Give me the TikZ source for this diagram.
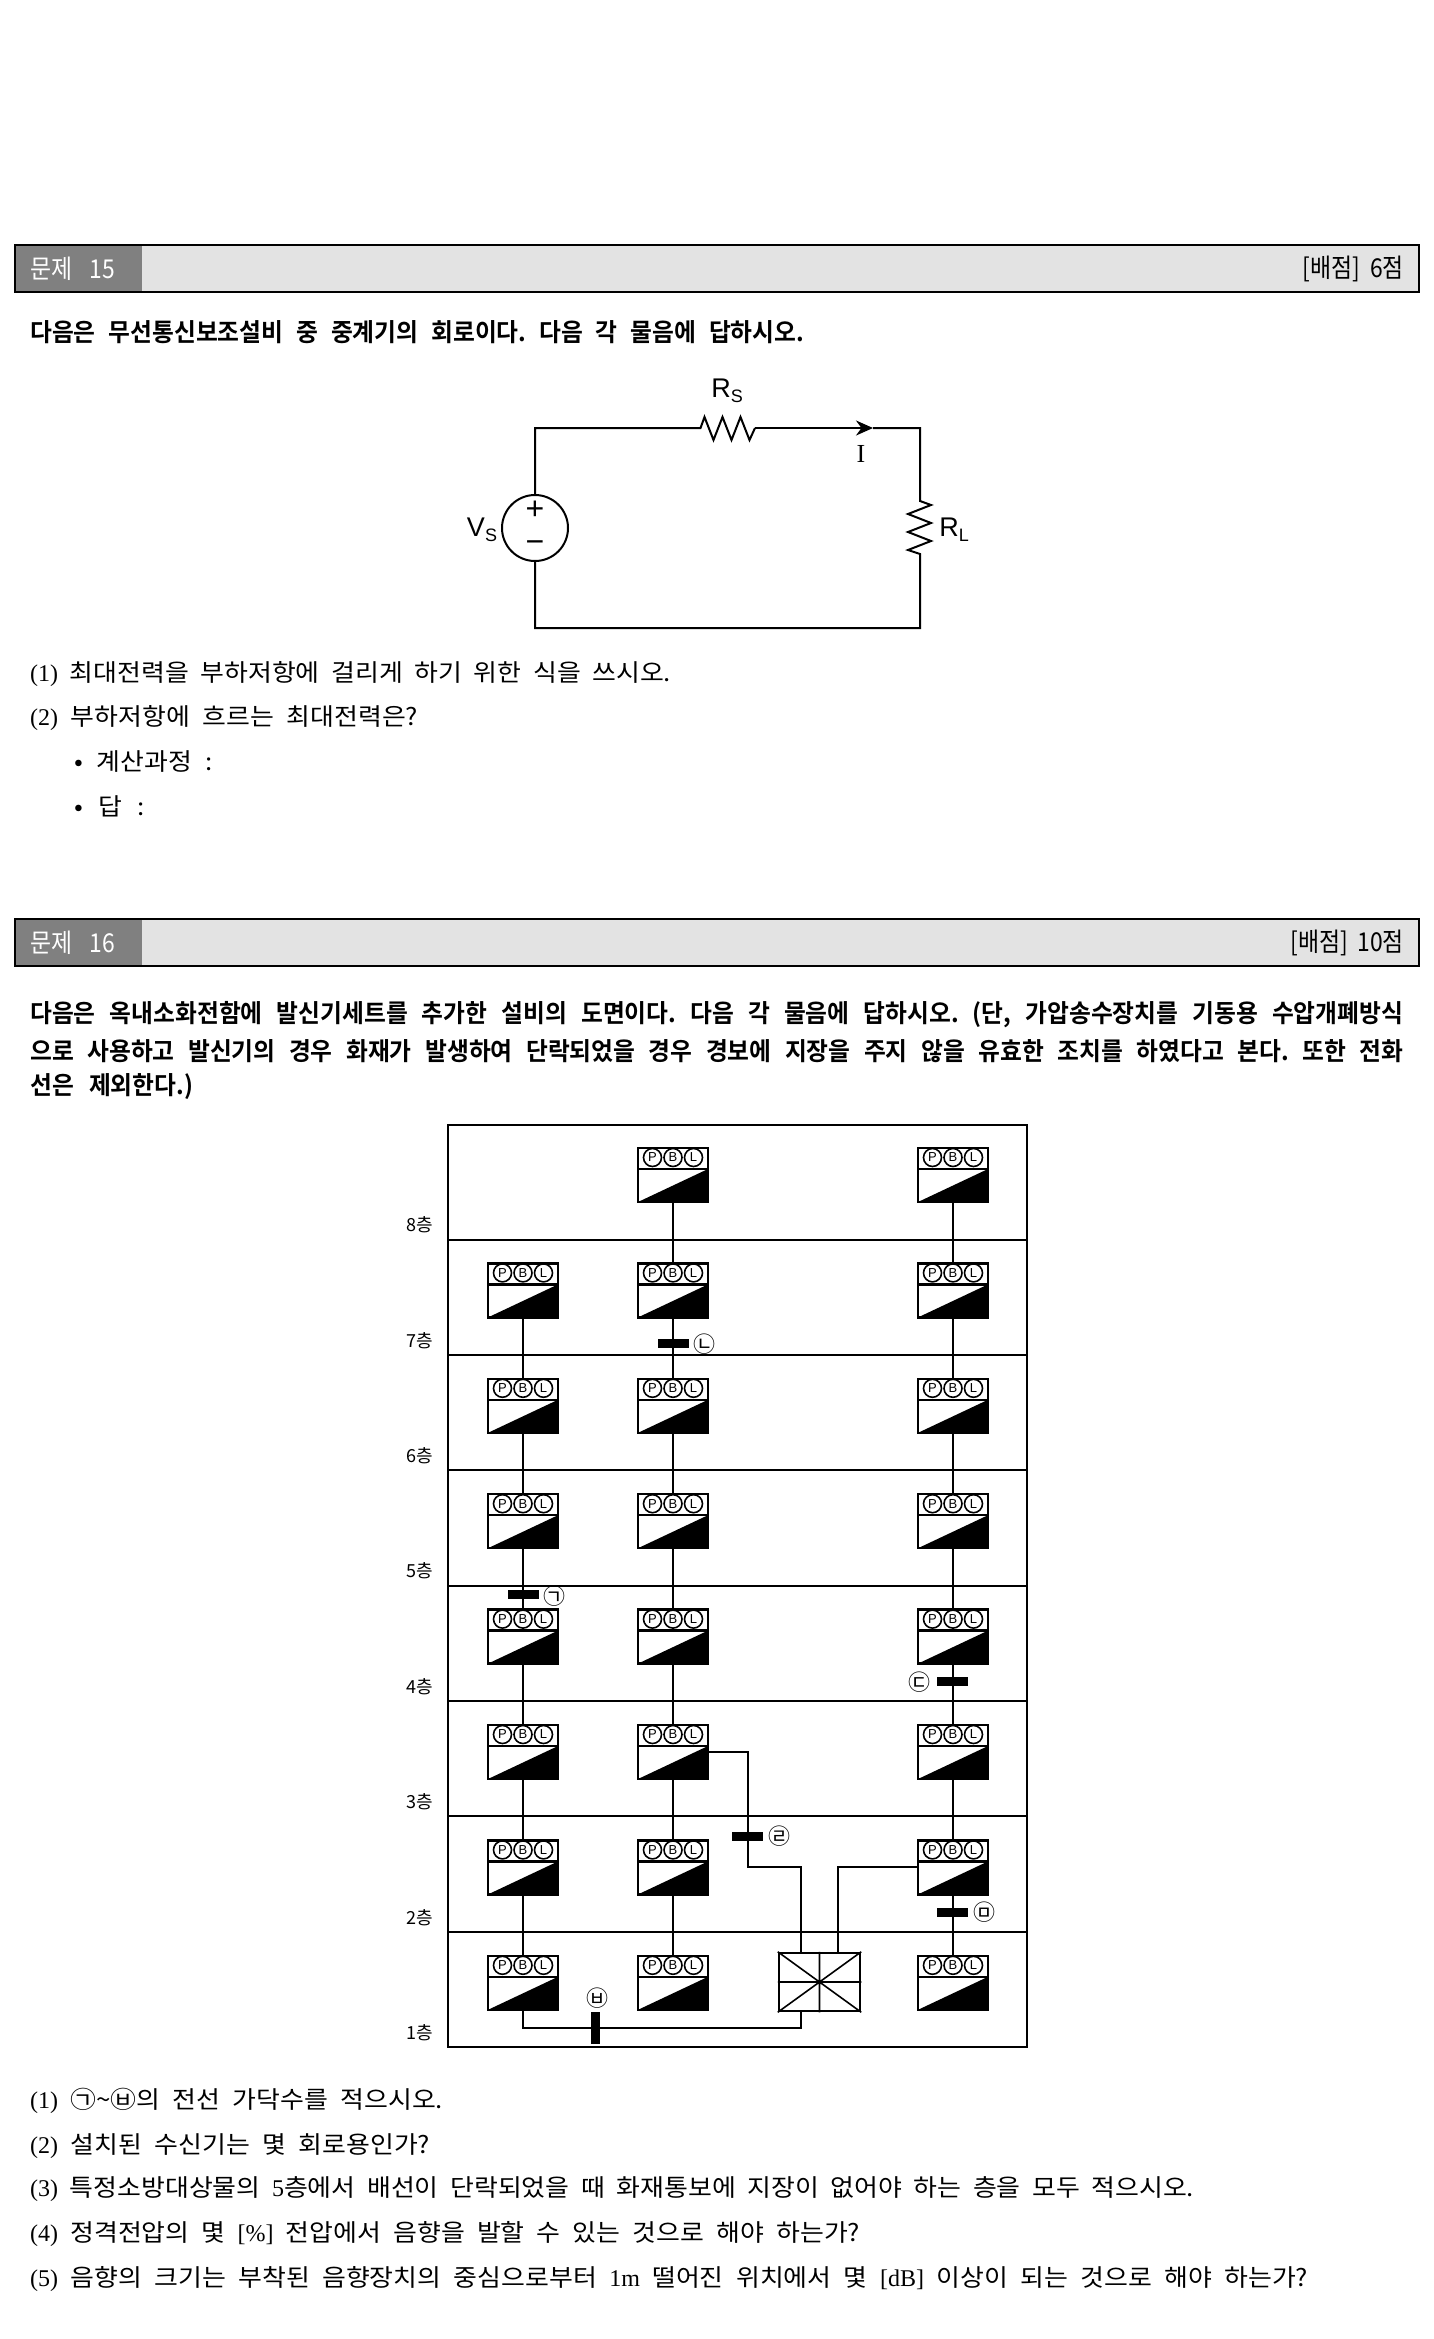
\documentclass[tikz,border=0pt]{standalone}
\usepackage{fontspec}
\setmainfont{Liberation Serif}
\newfontfamily\kr{Noto Sans CJK KR}
\newfontfamily\krn[FakeStretch=.88]{Noto Sans CJK KR}
\newfontfamily\krw[FakeStretch=1.08]{Noto Sans CJK KR}
\newfontfamily\krb[FakeStretch=.95]{Noto Sans CJK KR Bold}
\newfontfamily\sfl{Liberation Sans}
\usetikzlibrary{arrows.meta}
\frenchspacing
\tikzset{
 hd/.style={font=\krn\fontsize{26}{26}\selectfont,inner sep=0},
 stem/.style={anchor=west,font=\krb\fontsize{25}{25}\selectfont,inner sep=0},
 qn/.style={anchor=west,font=\krw\fontsize{24}{24}\selectfont,inner sep=0},
 flr/.style={font=\kr\fontsize{18}{18}\selectfont,inner sep=0},
 alarmbox/.style={draw,line width=2.5pt,minimum width=70pt,minimum height=54pt,inner sep=0,
  path picture={\fill(path picture bounding box.south west)--(path picture bounding box.south east)--([yshift=-21pt]path picture bounding box.north east)--cycle;
   \draw[line width=2.5pt]([yshift=-21pt]path picture bounding box.north west)--([yshift=-21pt]path picture bounding box.north east);}},
 lamp/.style={circle,draw,fill=white,line width=1.6pt,minimum size=18pt,inner sep=0,font=\sfl\fontsize{13}{13}\selectfont},
 tick/.style={fill=black,inner sep=0,minimum width=31pt,minimum height=9pt},
 vtick/.style={fill=black,inner sep=0,minimum width=9pt,minimum height=32pt},
 mk/.style={font=\kr\fontsize{22}{22}\selectfont,inner sep=0},
 wire/.style={line width=2pt},
 cir/.style={line width=2pt},
 lab/.style={font=\sfl\fontsize{27}{27}\selectfont,inner sep=0},
 sgn/.style={font=\sfl\fontsize{32}{32}\selectfont,inner sep=0}
}
\newcommand{\lt}[1]{{\rmfamily #1}}
\newcommand{\alarmset}[3]{%
\node[alarmbox](#1)at(#2,#3+28){};
\node[lamp](#1p)at(#2-20.5,#3+10.5){P};\node[lamp](#1b)at(#2,#3+10.5){B};\node[lamp](#1l)at(#2+20.5,#3+10.5){L};}
\newcommand{\headbar}[5]{%
\fill[gray!22](15,#1)rectangle(1419,#1+47);\fill[gray](15,#1)rectangle(142,#1+47);\draw[line width=2pt](15,#1)rectangle(1419,#1+47);
\node[hd,white,anchor=west](#2)at(30,#1+24){\makebox[85pt][s]{#3}};
\node[hd,anchor=east](#2s)at(1404,#1+24){\makebox[#5pt][s]{#4}};}
\begin{document}
\begin{tikzpicture}[x=1pt,y=-1pt]
\useasboundingbox(0,0)rectangle(1433,2339);
\fill[white](0,0)rectangle(1433,2339);
\headbar{244.5}{hda}{문제 15}{[배점] 6점}{101}
\node[stem](sa)at(30,332){\makebox[774pt][s]{다음은 무선통신보조설비 중 중계기의 회로이다. 다음 각 물음에 답하시오.}};
% circuit
\node[circle,draw,cir,minimum size=66pt,inner sep=0](vs)at(535,528){};
\node[sgn](plus)at(535,510){+};\node[sgn](minus)at(535,547){\textminus};
\coordinate(rsa)at(700.5,428);\coordinate(rsb)at(755,428);\coordinate(tip)at(873,428);\coordinate(cnr)at(920,428);
\coordinate(rla)at(920,501);\coordinate(rlb)at(920,554);\coordinate(brr)at(920,628);\coordinate(bll)at(535,628);
\draw[cir](vs.north)|-(rsa)--++(4,-11)--++(9,23)--++(9,-23)--++(9,23)--++(9,-23)--++(9,23)--(rsb);
\draw[cir,-{Stealth[length=17pt,width=15pt]}](rsb)--(tip);
\draw[cir](tip)--(cnr)--(rla)--++(11,4)--++(-23,9)--++(23,9)--++(-23,9)--++(23,9)--++(-23,9)--(rlb)--(brr)--(bll)--(vs.south);
\node[lab](rs)at(727,391){R\raisebox{-5pt}{\fontsize{18}{18}\selectfont S}};
\node[font=\fontsize{26}{26}\selectfont,inner sep=0](cur)at(861,454){I};
\node[lab](vl)at(482,530){V\raisebox{-5pt}{\fontsize{18}{18}\selectfont S}};
\node[lab](rl)at(954,530){R\raisebox{-5pt}{\fontsize{18}{18}\selectfont L}};
\node[qn](qa)at(30,674){\makebox[641pt][s]{\lt{(1)} 최대전력을 부하저항에 걸리게 하기 위한 식을 쓰시오.}};
\node[qn](qb)at(30,718){\makebox[388pt][s]{\lt{(2)} 부하저항에 흐르는 최대전력은?}};
\node[qn](qc)at(74,762){\makebox[139pt][s]{• 계산과정 :}};
\node[qn](qd)at(74,806){\makebox[71pt][s]{• 답 :}};
\headbar{918.5}{hdb}{문제 16}{[배점] 10점}{113}
\node[stem](sb)at(30,1015){\makebox[1373pt][s]{다음은 옥내소화전함에 발신기세트를 추가한 설비의 도면이다. 다음 각 물음에 답하시오. (단, 가압송수장치를 기동용 수압개폐방식}};
\node[stem](sc)at(30,1051){\makebox[1373pt][s]{으로 사용하고 발신기의 경우 화재가 발생하여 단락되었을 경우 경보에 지장을 주지 않을 유효한 조치를 하였다고 본다. 또한 전화}};
\node[stem](sd)at(30,1087){\makebox[163pt][s]{선은 제외한다.)}};
% building
\draw[wire](448,1124.5)rectangle(1027,2046.5);
\foreach \f in {1,...,7}\draw[wire](448,1124.5+115.3*\f)--(1027,1124.5+115.3*\f);
\foreach \f in {1,...,8}\node[flr](fl\f)at(419.5,1225+115.4*8-115.4*\f){\f 층};
\foreach \f in {1,...,7}\alarmset{a\f}{523}{1147+115.4*8-115.4*\f};
\foreach \f in {1,...,8}{\alarmset{b\f}{673}{1147+115.4*8-115.4*\f};\alarmset{d\f}{953}{1147+115.4*8-115.4*\f};}
\foreach \f/\g in {7/6,6/5,5/4,4/3,3/2,2/1}\draw[wire](a\f.south)--(a\g.north);
\foreach \f/\g in {8/7,7/6,6/5,5/4,4/3,3/2,2/1}{\draw[wire](b\f.south)--(b\g.north);\draw[wire](d\f.south)--(d\g.north);}
% receiver
\node[draw,line width=2.5pt,minimum width=81pt,minimum height=58pt,inner sep=0,fill=white](rc)at(819.5,1982){};
\draw[line width=1.6pt](rc.north west)--(rc.south east)(rc.south west)--(rc.north east)(rc.north)--(rc.south)(rc.west)--(rc.east);
\coordinate(tra)at(748,1867);\coordinate(pa)at(801,1953);\coordinate(pb)at(838,1953);\coordinate(pc)at(801,2011);\coordinate(pd)at(801,2028);
\draw[wire](b3.east)-|(tra)-|(pa);
\draw[wire](d2.west)-|(pb);
\draw[wire](a1.south)|-(pd)--(pc);
% marks
\node[tick](ta)at(523.5,1594.5){};\node[mk](ma)at(554,1596){㉠};
\node[tick](tb)at(673,1343.5){};\node[mk](mb)at(704,1344){㉡};
\node[tick](tc)at(952.5,1681.5){};\node[mk](mc)at(919,1682){㉢};
\node[tick](td)at(747.5,1836.5){};\node[mk](md)at(779,1836){㉣};
\node[tick](te)at(952.5,1912.5){};\node[mk](me)at(984,1912){㉤};
\node[vtick](tf)at(595.5,2028){};\node[mk](mf)at(597,1998){㉥};
\node[qn](qe)at(30,2101){\makebox[413pt][s]{\lt{(1)} ㉠\textasciitilde ㉥의 전선 가닥수를 적으시오.}};
\node[qn](qf)at(30,2146){\makebox[400pt][s]{\lt{(2)} 설치된 수신기는 몇 회로용인가?}};
\node[qn](qg)at(30,2189){\makebox[1164pt][s]{\lt{(3)} 특정소방대상물의 \lt{5}층에서 배선이 단락되었을 때 화재통보에 지장이 없어야 하는 층을 모두 적으시오.}};
\node[qn](qh)at(30,2234){\makebox[830pt][s]{\lt{(4)} 정격전압의 몇 \lt{[\%]} 전압에서 음향을 발할 수 있는 것으로 해야 하는가?}};
\node[qn](qi)at(30,2279){\makebox[1278pt][s]{\lt{(5)} 음향의 크기는 부착된 음향장치의 중심으로부터 \lt{1m} 떨어진 위치에서 몇 \lt{[dB]} 이상이 되는 것으로 해야 하는가?}};
\end{tikzpicture}
\end{document}
